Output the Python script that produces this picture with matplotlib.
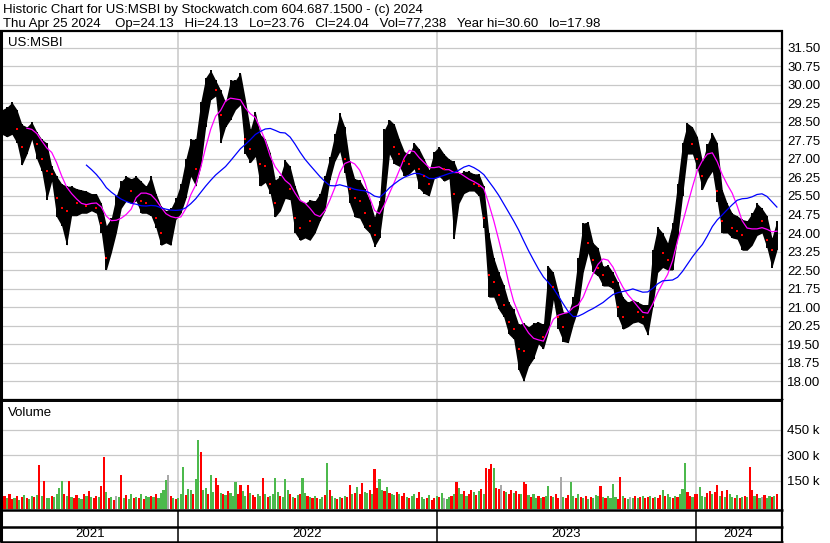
import matplotlib
matplotlib.use("Agg")
import matplotlib.pyplot as plt
from matplotlib.lines import Line2D
import numpy as np
import pandas as pd

plt.rcParams['font.family'] = ['Liberation Sans', 'DejaVu Sans']

# ---------------- data (weekly bars) ----------------
week_start = "2021-04-28"
n_weeks = 157

price_hi = [29.0,
    29.1, 29.3, 29.0, 28.4, 28.3, 28.5, 28.1, 27.8, 27.65, 26.7,
    26.3, 26.0, 25.9, 25.9, 25.8, 25.75, 25.7, 25.6, 25.6, 25.2,
    24.3, 24.6, 25.5, 26.1, 26.3, 26.2, 26.3, 26.1, 25.9, 26.3,
    25.6, 25.1, 24.9, 25.0, 25.4, 26.0, 27.0, 27.8, 27.8, 29.3,
    30.3, 30.6, 30.2, 29.8, 29.3, 30.2, 30.2, 30.5, 29.4, 28.2,
    28.9, 28.0, 27.8, 27.25, 26.15, 26.3, 26.95, 26.7, 25.9, 25.35,
    25.2, 25.35, 25.3, 25.6, 26.3, 27.1, 28.0, 28.85, 28.3, 26.9,
    26.2, 26.15, 25.8, 25.35, 24.65, 25.3, 28.2, 28.6, 28.4, 27.8,
    27.3, 27.2, 27.65, 27.4, 27.0, 26.55, 27.3, 27.5, 27.2, 27.0,
    26.9, 26.4, 26.5, 26.5, 26.4, 26.4, 25.9, 24.0, 23.0, 22.4,
    21.9, 21.2, 20.9, 20.3, 20.35, 20.2, 20.35, 20.4, 20.3, 22.65,
    22.4, 21.6, 20.8, 20.75, 21.4, 23.0, 24.4, 24.45, 23.6, 23.4,
    22.65, 22.7, 22.4, 22.0, 21.4, 21.2, 21.3, 21.2, 21.1, 21.1,
    23.3, 24.25, 24.0, 23.6, 24.4, 26.0, 27.65, 28.45, 28.3, 27.9,
    26.9, 27.6, 28.05, 27.65, 25.75, 25.2, 24.8, 24.7, 24.55,
    24.5, 24.8, 25.2, 25.0, 24.7, 23.8, 24.5]

price_lo = [28.0,
    27.9, 28.0, 27.65, 26.75, 27.2, 27.8, 27.0, 26.5, 25.35, 26.1,
    24.65, 24.3, 23.5, 24.7, 24.7, 24.8, 24.8, 24.9, 24.8, 24.0,
    22.5, 23.2, 24.0, 25.0, 25.3, 25.2, 25.3, 24.8, 24.8, 24.7,
    24.2, 23.5, 23.6, 23.5, 24.55, 24.8, 25.4, 26.3, 25.9, 26.7,
    28.3, 29.4, 29.55, 27.65, 28.3, 28.6, 29.0, 29.2, 27.2, 26.85,
    27.1, 25.9, 26.05, 25.6, 24.65, 24.9, 25.4, 25.35, 24.0, 23.7,
    23.8, 23.7, 24.0, 24.5, 24.9, 26.15, 26.9, 27.3, 26.45, 25.2,
    24.65, 24.6, 24.2, 24.0, 23.45, 23.8, 25.3, 27.2, 26.8, 26.7,
    26.3, 26.4, 26.6, 25.8, 25.6, 25.5, 26.2, 26.3, 26.1, 26.2,
    23.75, 25.2, 25.6, 25.7, 25.7, 25.5, 24.2, 21.4, 21.4, 20.9,
    20.6, 19.9, 19.7, 18.45, 17.98, 18.6, 18.9, 19.5, 19.3, 20.0,
    21.3, 20.1, 19.6, 19.55, 20.3, 20.9, 22.4, 23.2, 22.4, 22.25,
    21.85, 21.85, 21.75, 20.6, 20.1, 20.2, 20.35, 20.4, 20.3, 19.85,
    21.0, 22.4, 22.6, 22.5, 22.5, 23.8, 25.5, 27.2, 27.2, 26.6,
    25.75, 26.2, 26.5, 25.25, 24.0, 24.0, 23.8, 23.75, 23.3,
    23.3, 23.5, 23.9, 24.0, 23.4, 22.6, 23.3]

price_close = [28.5,
    28.6, 28.8, 28.2, 27.5, 27.9, 28.2, 27.6, 27.0, 26.5, 26.4,
    25.4, 25.0, 24.9, 25.4, 25.2, 25.3, 25.1, 25.3, 25.0, 24.4,
    23.0, 24.2, 25.2, 25.8, 25.9, 25.7, 25.8, 25.3, 25.2, 25.4,
    24.6, 24.0, 24.2, 24.6, 24.9, 25.6, 26.6, 27.4, 26.6, 28.8,
    29.8, 30.0, 29.8, 28.8, 28.9, 29.5, 29.6, 29.8, 27.8, 27.4,
    28.0, 26.8, 26.7, 26.0, 25.2, 25.8, 26.3, 25.8, 24.6, 24.2,
    24.6, 24.5, 24.8, 25.3, 26.0, 26.8, 27.6, 28.2, 27.0, 25.8,
    25.4, 25.3, 24.8, 24.3, 23.9, 25.0, 27.6, 28.1, 27.5, 27.2,
    26.9, 26.8, 27.3, 26.6, 26.3, 26.0, 26.9, 27.0, 26.6, 26.6,
    25.6, 26.0, 26.1, 26.2, 26.0, 25.9, 24.6, 22.3, 22.0, 21.5,
    21.1, 20.4, 20.1, 19.3, 19.2, 19.6, 19.8, 20.0, 19.8, 22.0,
    21.8, 20.6, 20.2, 20.3, 21.0, 22.6, 23.7, 23.6, 22.9, 22.6,
    22.3, 22.3, 22.0, 21.0, 20.6, 20.8, 20.9, 20.8, 20.6, 20.8,
    22.8, 23.6, 23.2, 22.9, 24.0, 25.6, 27.2, 27.9, 27.6, 27.0,
    26.3, 27.2, 27.5, 25.7, 24.5, 24.6, 24.2, 24.1, 23.9,
    23.9, 24.3, 24.6, 24.5, 23.7, 23.3, 24.04]

# half-week volume bars (thousands of shares) and colours (g up, r down, n unchanged)
vol_start = "2021-04-28"
volume_k = [
    55, 62, 48, 70, 45, 52, 60, 40, 58, 66, 50, 44, 62, 55, 68, 240, 60, 147, 52, 48,
    60, 55, 70, 110, 150, 75, 62, 150, 58, 48, 65, 52, 45, 70, 60, 90, 55, 48, 62, 58,
    117, 290, 85, 48, 55, 40, 62, 58, 187, 50, 65, 45, 70, 52, 58, 48, 75, 42, 60, 55,
    60, 55, 70, 48, 80, 95, 154, 187, 60, 50, 45, 52, 75, 233, 65, 105, 98, 70, 162, 390,
    320, 95, 110, 70, 187, 85, 165, 125, 80, 72, 65, 90, 78, 60, 145, 70, 125, 88, 62, 127,
    80, 65, 58, 72, 60, 165, 75, 55, 62, 70, 168, 85, 60, 58, 160, 95, 70, 55, 48, 65,
    70, 168, 80, 62, 55, 48, 60, 52, 45, 58, 65, 257, 95, 60, 50, 42, 55, 48, 62, 58,
    127, 75, 80, 115, 70, 140, 85, 78, 95, 70, 220, 110, 160, 95, 88, 115, 80, 72, 65, 85,
    70, 62, 80, 55, 48, 60, 72, 50, 85, 58, 45, 52, 68, 40, 48, 60, 55, 78, 50, 45,
    55, 62, 70, 141, 110, 75, 88, 60, 70, 95, 82, 68, 90, 100, 75, 228, 220, 250, 225, 110,
    105, 127, 90, 85, 70, 95, 80, 88, 72, 75, 145, 130, 65, 58, 70, 52, 60, 48, 55, 62,
    118, 62, 55, 70, 48, 175, 58, 52, 65, 141, 60, 48, 72, 55, 50, 62, 45, 58, 52, 68,
    60, 118, 55, 48, 62, 52, 130, 58, 45, 175, 62, 50, 45, 58, 52, 60, 48, 55, 62, 50,
    55, 62, 48, 58, 52, 65, 97, 60, 72, 55, 48, 62, 58, 70, 105, 257, 85, 62, 55, 75,
    70, 115, 60, 55, 80, 90, 72, 85, 123, 62, 88, 55, 98, 70, 58, 52, 65, 48, 55, 60,
    58, 233, 95, 62, 70, 48, 55, 65, 52, 60, 58, 62, 75]
volume_dir = ("grgrrgrgrgrggrgrgrgg" "rggggrgrgrrggrgrgrrg" "rrgrgrngrgrggrgrgrgg"
              "rgrggggnrgrgggrggrgg" "rggrggrrgrgrgggrrggr" "grrggrgrggggrgggrgrg"
              "rggrgrgrggrgrggrgrgr" "rgrgrrggrgrrggrgrggr" "grrgrggrrggrgrrgrgng"
              "grgrggrgrrgrgrgrrrgr" "rnrgrrgrrgrrgrggrgrg" "grgrrngrrggrgrgrgrgg"
              "grgrggggrrgrgngrgrgr" "rgrgrrgrggrgrgggrrgr" "rgggrrgrrgrgrggrgrgr"
              "grrgrgnrggrgr")

price_ticks = [18.00, 18.75, 19.50, 20.25, 21.00, 21.75, 22.50, 23.25, 24.00, 24.75,
               25.50, 26.25, 27.00, 27.75, 28.50, 29.25, 30.00, 30.75, 31.50]
vol_ticks = [150000, 300000, 450000]
vol_tick_labels = ["150 k", "300 k", "450 k"]
years = ["2021", "2022", "2023", "2024"]
year_bounds = ["2022-01-01", "2023-01-01", "2024-01-01"]

header1 = "Historic Chart for US:MSBI by Stockwatch.com 604.687.1500 - (c) 2024"
header2 = "Thu Apr 25 2024    Op=24.13   Hi=24.13   Lo=23.76   Cl=24.04   Vol=77,238   Year hi=30.60   lo=17.98"
symbol = "US:MSBI"

# ---------------- layout helpers ----------------
W, H = 830, 543
def fx(px): return px / W
def fy(py): return 1 - py / H

GRID = "#c8c8c8"
GREEN = "#4cb94c"
RED = "#ff0000"
GRAY = "#a8a8a8"
FS = 9.5

fig = plt.figure(figsize=(W / 100, H / 100), dpi=100)
fig.patch.set_facecolor("white")

# date <-> pixel: 2022-01-01 at x=178 px, 259 px per year
ref = pd.Timestamp("2022-01-01")
dpp = 365.0 / 259.0
x_left, x_right = 2.5, 781.0
d_left = ref + pd.Timedelta(days=(x_left - 178) * dpp)
d_right = ref + pd.Timedelta(days=(x_right - 178) * dpp)

weeks = pd.date_range(week_start, periods=n_weeks, freq="7D")
vdates = pd.date_range(vol_start, periods=len(volume_k), freq="84h")

# ---------------- price panel ----------------
axp = fig.add_axes([fx(x_left), fy(399.5), fx(x_right) - fx(x_left), fy(31.5) - fy(399.5)])
ptop = 31.5 + (48 - 31.5) / 24.67
pbot = 18.0 - (399.5 - 381) / 24.67
axp.set_ylim(pbot, ptop)
axp.set_xlim(d_left, d_right)
for t in price_ticks:
    axp.axhline(t, color=GRID, lw=0.9, zorder=0)
axp.axhline(17.25, color=GRID, lw=0.9, zorder=0)
for b in year_bounds:
    axp.axvline(pd.Timestamp(b), color=GRID, lw=1.1, zorder=0)

axp.fill_between(weeks, price_lo, price_hi, color="black", lw=0, zorder=2)
axp.vlines(weeks, price_lo, price_hi, color="black", lw=1.4, zorder=2)
cl = pd.Series(price_close)
ma_short = cl.rolling(6).mean()
ma_long = cl.rolling(18).mean()
axp.plot(weeks, ma_short, color="#ff00ff", lw=0.9, zorder=3)
axp.plot(weeks, ma_long, color="#0000ff", lw=0.9, zorder=3)
down = [i for i in range(1, n_weeks) if price_close[i] < price_close[i - 1]]
axp.plot(weeks[down], [price_close[i] for i in down], ls="none", marker="s",
         ms=1.6, mew=0, color="red", zorder=4)

axp.yaxis.tick_right()
axp.set_yticks(price_ticks)
axp.set_yticklabels([f"{t:.2f}" for t in price_ticks], fontsize=FS)
axp.tick_params(axis="y", length=0, pad=4.5)
axp.set_xticks([])
for s in axp.spines.values():
    s.set_visible(False)
fig.text(fx(8), fy(42.5), symbol, fontsize=FS, va="center", ha="left")

# ---------------- volume panel ----------------
axv = fig.add_axes([fx(x_left), fy(509), fx(x_right) - fx(x_left), fy(401.5) - fy(509)])
vbot = -15000
axv.set_ylim(vbot, 615000)
axv.set_xlim(d_left, d_right)
for t in vol_ticks:
    axv.axhline(t, color=GRID, lw=0.9, zorder=0)
for b in year_bounds:
    axv.axvline(pd.Timestamp(b), color=GRID, lw=1.1, zorder=0)
cmap = {"g": GREEN, "r": RED, "n": GRAY}
vcol = [cmap[c] for c in volume_dir]
vals = np.array(volume_k) * 1000.0
axv.bar(vdates, vals - vbot, bottom=vbot, width=3.0, color=vcol, linewidth=0, zorder=2)
axv.yaxis.tick_right()
axv.set_yticks(vol_ticks)
axv.set_yticklabels(vol_tick_labels, fontsize=FS)
axv.tick_params(axis="y", length=0, pad=4.5)
axv.set_xticks([])
for s in axv.spines.values():
    s.set_visible(False)
fig.text(fx(8), fy(413), "Volume", fontsize=FS, va="center", ha="left")

# ---------------- frame lines ----------------
def hline(y, x0, x1, lw):
    fig.add_artist(Line2D([fx(x0), fx(x1)], [fy(y), fy(y)], color="black", lw=lw,
                          solid_capstyle="butt"))
def vline(x, y0, y1, lw, color="black"):
    fig.add_artist(Line2D([fx(x), fx(x)], [fy(y0), fy(y1)], color=color, lw=lw,
                          solid_capstyle="butt"))

hline(30.5, 0, 782.5, 1.6)
hline(399.2, 0, 782.5, 0.9)
hline(401.2, 0, 782.5, 1.4)
hline(509.5, 0, 782.5, 1.8)
hline(526.5, 0, 782.5, 1.8)
hline(541.5, 0, 782.5, 1.8)
vline(1.0, 30, 542, 2.2)
vline(781.7, 30, 542, 1.6)
for b in year_bounds:
    xb = 178 + (pd.Timestamp(b) - ref).days / dpp
    vline(xb, 509.5, 541.5, 1.1)

# year labels centred in their spans
edges = [x_left] + [178 + (pd.Timestamp(b) - ref).days / dpp for b in year_bounds] + [x_right]
for i, y in enumerate(years):
    fig.text(fx((edges[i] + edges[i + 1]) / 2), fy(534), y, fontsize=FS, ha="center", va="center")

# header
fig.text(fx(3), fy(9.5), header1, fontsize=FS, ha="left", va="center")
fig.text(fx(3), fy(23.5), header2, fontsize=FS, ha="left", va="center")

fig.savefig("out.png", dpi=100)
